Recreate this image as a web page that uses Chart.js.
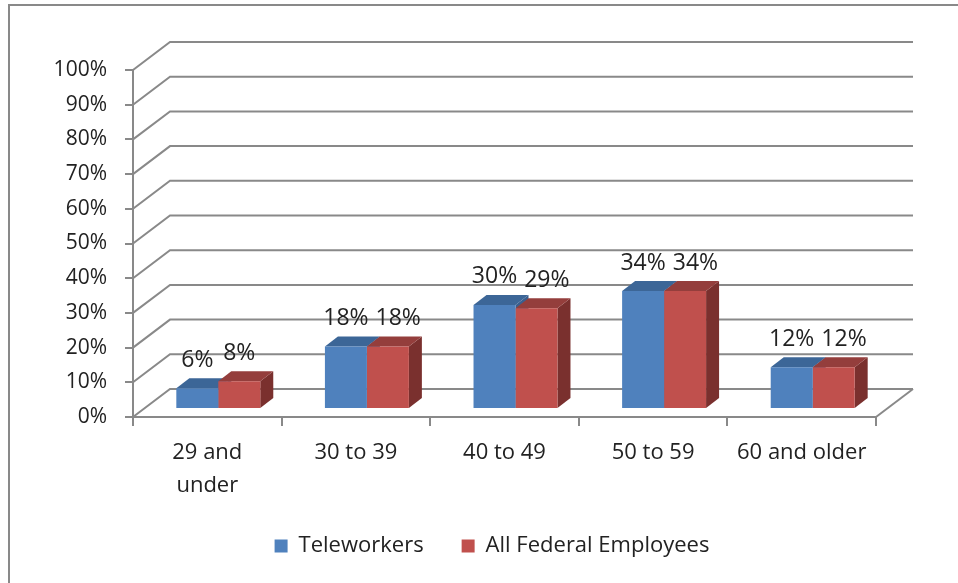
<!DOCTYPE html>
<html>
<head>
<meta charset="utf-8">
<script src="https://cdn.jsdelivr.net/npm/chart.js@4/dist/chart.umd.min.js"></script>
<style>
  html, body { margin: 0; padding: 0; background: #fff; }
  #wrap { width: 958px; height: 583px; }
</style>
</head>
<body>
<div id="wrap"><canvas id="myChart" width="958" height="583"></canvas></div>
<script>
// data

const categories = [["29 and", "under"], "30 to 39", "40 to 49", "50 to 59", "60 and older"];
const teleworkers = [6, 18, 30, 34, 12];
const allFederal = [8, 18, 29, 34, 12];
const seriesNames = ["Teleworkers", "All Federal Employees"];
const yTicks = [0, 10, 20, 30, 40, 50, 60, 70, 80, 90, 100];

const gridColor = "#898989";
const textColor = "#222";
const fontFamily = "'Open Sans', sans-serif";

// 3d offsets
const DX = 11, DY = -8;   // bars sit a bit behind the front plane
const BX = 13, BY = -10;  // bar depth
const WX = 37, WY = -28;  // back wall

const fake3d = {
  id: "fake3d",
  beforeDraw(chart) {
    const ctx = chart.ctx;
    ctx.save();
    ctx.strokeStyle = gridColor;
    ctx.lineWidth = 2;
    ctx.beginPath();
    ctx.moveTo(9, 583);
    ctx.lineTo(9, 5);
    ctx.lineTo(958, 5);
    ctx.stroke();
    ctx.restore();
  },
  beforeDatasetsDraw(chart) {
    const ctx = chart.ctx;
    const y = chart.scales.y;
    const area = chart.chartArea;

    // walls
    ctx.save();
    ctx.strokeStyle = gridColor;
    ctx.lineWidth = 2;
    yTicks.forEach((v) => {
      const py = y.getPixelForValue(v);
      ctx.beginPath();
      ctx.moveTo(area.left, py);
      ctx.lineTo(area.left + WX, py + WY);
      ctx.lineTo(area.right + WX, py + WY);
      ctx.stroke();
    });
    const py0 = y.getPixelForValue(0);
    ctx.beginPath();
    ctx.moveTo(area.right, py0);
    ctx.lineTo(area.right + WX, py0 + WY);
    ctx.stroke();
    ctx.restore();

    // bar sides and tops, fronts come from chart.js
    ctx.save();
    ctx.translate(DX, DY);
    const bars = [];
    chart.data.datasets.forEach((ds, i) => {
      chart.getDatasetMeta(i).data.forEach((bar) => {
        const p = bar.getProps(["x", "y", "base", "width"], true);
        bars.push({ ds, p });
        const r = p.x + p.width / 2;
        ctx.fillStyle = ds.sideColor;
        ctx.beginPath();
        ctx.moveTo(r, p.y);
        ctx.lineTo(r + BX, p.y + BY);
        ctx.lineTo(r + BX, p.base + BY);
        ctx.lineTo(r, p.base);
        ctx.closePath();
        ctx.fill();
      });
    });
    bars.sort((a, b) => b.p.y - a.p.y);
    bars.forEach(({ ds, p }) => {
      const l = p.x - p.width / 2;
      const r = p.x + p.width / 2;
      ctx.fillStyle = ds.topColor;
      ctx.beginPath();
      ctx.moveTo(l, p.y);
      ctx.lineTo(l + BX, p.y + BY);
      ctx.lineTo(r + BX, p.y + BY);
      ctx.lineTo(r, p.y);
      ctx.closePath();
      ctx.fill();
    });
  },
  afterDatasetsDraw(chart) {
    const ctx = chart.ctx;
    ctx.restore();

    // value labels, the second one steps aside when they would touch
    ctx.save();
    ctx.fillStyle = textColor;
    ctx.font = "23px " + fontFamily;
    ctx.textAlign = "center";
    ctx.textBaseline = "middle";
    const m0 = chart.getDatasetMeta(0).data;
    const m1 = chart.getDatasetMeta(1).data;
    m0.forEach((bar, j) => {
      const t0 = teleworkers[j] + "%";
      const t1 = allFederal[j] + "%";
      const w0 = ctx.measureText(t0).width;
      const w1 = ctx.measureText(t1).width;
      const x0 = bar.x + DX;
      let x1 = m1[j].x + DX;
      const need = w0 / 2 + w1 / 2 + 7;
      if (x1 - x0 < need) x1 = x0 + need;
      ctx.fillText(t0, x0, bar.y + DY - 28);
      ctx.fillText(t1, x1, m1[j].y + DY - 28);
    });
    ctx.restore();
  },
};

const myChart = new Chart("myChart", {
  type: "bar",
  data: {
    labels: categories,
    datasets: [
      {
        label: seriesNames[0],
        data: teleworkers,
        backgroundColor: "#4F81BD",
        topColor: "#3C6697",
        sideColor: "#3A5F8E",
      },
      {
        label: seriesNames[1],
        data: allFederal,
        backgroundColor: "#C0504D",
        topColor: "#943E3C",
        sideColor: "#7A302E",
      },
    ],
  },
  options: {
    responsive: false,
    animation: false,
    layout: {
      padding: { left: 26, top: 70, right: 0, bottom: 16 },
    },
    datasets: {
      bar: {
        categoryPercentage: 0.565,
        barPercentage: 1,
      },
    },
    scales: {
      y: {
        min: 0,
        max: 100,
        afterFit: (s) => {
          s.width = 107;
        },
        ticks: {
          stepSize: 10,
          padding: 18,
          color: textColor,
          font: { family: fontFamily, size: 21 },
          callback: (v) => v + "%",
        },
        grid: {
          drawOnChartArea: false,
          tickLength: 8,
          color: gridColor,
          lineWidth: 2,
        },
        border: { color: gridColor, width: 2 },
      },
      // empty room on the right for the back wall
      y2: {
        type: "linear",
        position: "right",
        afterFit: (s) => {
          s.width = 82;
        },
        ticks: { display: false },
        grid: { display: false },
        border: { display: false },
      },
      x: {
        afterFit: (s) => {
          const lh = s.chart.legend ? s.chart.legend.height : 0;
          s.height = s.chart.height - 417 - lh - 16;
        },
        ticks: {
          padding: 10,
          color: textColor,
          maxRotation: 0,
          font: { family: fontFamily, size: 22, lineHeight: 1.5 },
        },
        grid: {
          offset: true,
          drawOnChartArea: false,
          tickLength: 9,
          color: gridColor,
          lineWidth: 2,
        },
        border: { color: gridColor, width: 2 },
      },
    },
    plugins: {
      legend: {
        position: "bottom",
        labels: {
          boxWidth: 13,
          boxHeight: 13,
          padding: 38,
          color: textColor,
          font: { family: fontFamily, size: 22 },
        },
      },
      tooltip: { enabled: false },
    },
  },
  plugins: [fake3d],
});
</script>
</body>
</html>
